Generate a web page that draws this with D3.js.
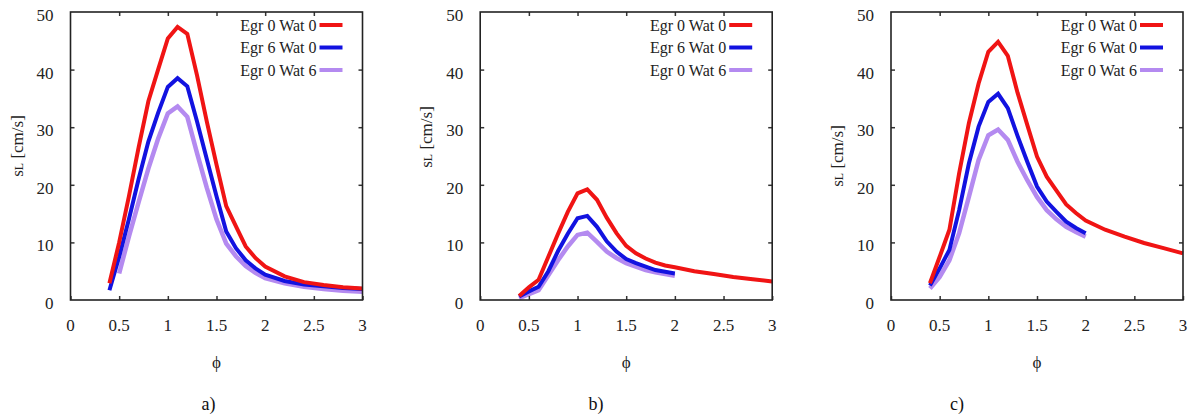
<!DOCTYPE html>
<html>
<head>
<meta charset="utf-8">
<script src="https://cdn.jsdelivr.net/npm/d3@7"></script>
<style>
  body { margin: 0; background: #fff; }
  svg { display: block; }
</style>
</head>
<body>
<div id="chart"></div>
<script>
// phi values (x axis)
var phiFull = [0.4, 0.5, 0.6, 0.7, 0.8, 0.9, 1.0, 1.1, 1.2, 1.3, 1.4, 1.5, 1.6, 1.7, 1.8, 1.9, 2.0, 2.2, 2.4, 2.6, 2.8, 3.0];
var phiShort = [0.4, 0.5, 0.6, 0.7, 0.8, 0.9, 1.0, 1.1, 1.2, 1.3, 1.4, 1.5, 1.6, 1.7, 1.8, 1.9, 2.0];
var phiFromHalf = [0.5, 0.6, 0.7, 0.8, 0.9, 1.0, 1.1, 1.2, 1.3, 1.4, 1.5, 1.6, 1.7, 1.8, 1.9, 2.0, 2.2, 2.4, 2.6, 2.8, 3.0];

// laminar flame speed sL [cm/s]
var slA_egr0wat0 = [2.9, 10, 18, 26.5, 34.5, 40, 45.4, 47.4, 46.2, 39, 31, 23.5, 16.3, 12.8, 9.3, 7.3, 5.8, 4.1, 3.1, 2.6, 2.2, 2.0];
var slA_egr6wat0 = [1.7, 7.5, 14, 21, 27.5, 32.5, 37.0, 38.5, 37.1, 31, 24.5, 18, 11.9, 9.0, 6.9, 5.5, 4.4, 3.3, 2.7, 2.4, 2.1, 1.9];
var slA_egr0wat6 = [4.6, 11, 17, 22.8, 28, 32.4, 33.6, 31.8, 25.5, 19.5, 14, 9.8, 7.6, 5.9, 4.7, 3.8, 2.9, 2.3, 1.9, 1.6, 1.45];

var slB_egr0wat0 = [0.7, 2.2, 3.5, 7.5, 11.5, 15.3, 18.5, 19.2, 17.4, 14.3, 11.6, 9.4, 8.1, 7.2, 6.5, 6.0, 5.7, 5.0, 4.5, 4.0, 3.6, 3.2];
var slB_egr6wat0 = [0.6, 1.5, 2.3, 5.0, 8.5, 11.5, 14.2, 14.6, 12.7, 10.2, 8.4, 7.1, 6.4, 5.8, 5.2, 4.9, 4.6];
var slB_egr0wat6 = [0.3, 1.0, 1.7, 4.3, 6.9, 9.3, 11.3, 11.7, 10.1, 8.4, 7.3, 6.4, 5.8, 5.2, 4.8, 4.5, 4.2];

var slC_egr0wat0 = [2.9, 7.5, 12.2, 22, 30.7, 37.6, 43.1, 44.8, 42.4, 36.0, 30.4, 24.9, 21.4, 19.0, 16.6, 15.1, 13.8, 12.2, 11.0, 9.9, 9.0, 8.1];
var slC_egr6wat0 = [2.5, 5.5, 8.7, 15.6, 23.7, 30.1, 34.4, 35.8, 33.3, 28.5, 24, 19.7, 17.1, 15.3, 13.6, 12.5, 11.6];
var slC_egr0wat6 = [2.0, 4.0, 6.9, 11.6, 17.9, 24.3, 28.6, 29.6, 27.8, 24, 20.8, 17.9, 15.6, 14.0, 12.7, 11.8, 11.0];

var seriesNames = ["Egr 0 Wat 0", "Egr 6 Wat 0", "Egr 0 Wat 6"];
var seriesColors = ["#f01414", "#1212e0", "#b48af0"];
var xTicks = [0, 0.5, 1, 1.5, 2, 2.5, 3];
var yTicks = [0, 10, 20, 30, 40, 50];
var captions = ["a)", "b)", "c)"];

var panels = [
  {left: 70.5, caption: 0, captionX: 208.5, labelY: 146,
   series: [{x: phiFull, y: slA_egr0wat0}, {x: phiFull, y: slA_egr6wat0}, {x: phiFromHalf, y: slA_egr0wat6}]},
  {left: 480.2, caption: 1, captionX: 596, labelY: 137,
   series: [{x: phiFull, y: slB_egr0wat0}, {x: phiShort, y: slB_egr6wat0}, {x: phiShort, y: slB_egr0wat6}]},
  {left: 891, caption: 2, captionX: 957, labelY: 156,
   series: [{x: phiFull, y: slC_egr0wat0}, {x: phiShort, y: slC_egr6wat0}, {x: phiShort, y: slC_egr0wat6}]}
];

var W = 1189, H = 415;
var top0 = 12, bottom0 = 300, plotW = 292;
var SERIF = "'Liberation Serif', 'Times New Roman', serif";

var svg = d3.select("#chart")
            .append("svg")
              .attr("width", W)
              .attr("height", H);

function drawPanel(p) {
  var x = d3.scaleLinear().domain([0, 3]).range([p.left, p.left + plotW]);
  var y = d3.scaleLinear().domain([0, 50]).range([bottom0, top0]);
  var g = svg.append("g");

  // curves
  var line = d3.line()
               .x(function(d) { return x(d[0]); })
               .y(function(d) { return y(d[1]); });
  // purple first, then blue, red on top
  [2, 1, 0].forEach(function(i) {
    var s = p.series[i];
    var pts = s.x.map(function(v, k) { return [v, s.y[k]]; });
    g.append("path")
      .datum(pts)
      .attr("d", line)
      .attr("fill", "none")
      .attr("stroke", seriesColors[i])
      .attr("stroke-width", i == 2 ? 4.5 : 4)
      .attr("stroke-linejoin", "miter");
  });

  // inward ticks on all sides (mirror)
  var tl = 4;
  var axB = d3.axisBottom(x).tickValues(xTicks).tickSize(-tl).tickFormat("");
  var axT = d3.axisTop(x).tickValues(xTicks.slice(1, -1)).tickSize(-tl).tickFormat("");
  var axL = d3.axisLeft(y).tickValues(yTicks.slice(1, -1)).tickSize(-tl).tickFormat("");
  var axR = d3.axisRight(y).tickValues(yTicks.slice(1, -1)).tickSize(-tl).tickFormat("");
  g.append("g").attr("transform", "translate(0," + bottom0 + ")").call(axB);
  g.append("g").attr("transform", "translate(0," + top0 + ")").call(axT);
  g.append("g").attr("transform", "translate(" + p.left + ",0)").call(axL);
  g.append("g").attr("transform", "translate(" + (p.left + plotW) + ",0)").call(axR);
  g.selectAll(".domain").remove();
  g.selectAll(".tick line").attr("stroke", "#333").attr("stroke-width", 1.5);

  // frame
  g.append("rect")
    .attr("x", p.left)
    .attr("y", top0)
    .attr("width", plotW)
    .attr("height", bottom0 - top0)
    .attr("fill", "none")
    .attr("stroke", "#222")
    .attr("stroke-width", 1.6);

  // tick labels
  g.selectAll(null)
    .data(xTicks)
    .enter()
    .append("text")
      .attr("x", function(d) { return x(d); })
      .attr("y", 331)
      .attr("text-anchor", "middle")
      .style("font-family", SERIF)
      .style("font-size", "17px")
      .attr("fill", "#222")
      .text(function(d) { return d; });
  g.selectAll(null)
    .data(yTicks)
    .enter()
    .append("text")
      .attr("x", p.left - 17)
      .attr("y", function(d) { return y(d) + 9; })
      .attr("text-anchor", "end")
      .style("font-family", SERIF)
      .style("font-size", "17px")
      .attr("fill", "#222")
      .text(function(d) { return d; });

  // y label
  var yl = g.append("text")
            .attr("transform", "translate(" + (p.left - 48) + "," + p.labelY + ") rotate(-90)")
            .attr("text-anchor", "middle")
            .style("font-family", SERIF)
            .style("font-size", "17px")
            .attr("fill", "#222");
  yl.append("tspan").text("s");
  yl.append("tspan").style("font-size", "12px").text("L");
  yl.append("tspan").text(" [cm/s]");

  // x label
  g.append("text")
    .attr("x", p.left + plotW / 2)
    .attr("y", 368)
    .attr("text-anchor", "middle")
    .style("font-family", SERIF)
    .style("font-size", "17px")
    .attr("fill", "#222")
    .text("\u03d5");

  // caption
  g.append("text")
    .attr("x", p.captionX)
    .attr("y", 410)
    .attr("text-anchor", "middle")
    .style("font-family", SERIF)
    .style("font-size", "18px")
    .attr("fill", "#111")
    .text(captions[p.caption]);

  // legend
  var lineEnd = p.left + plotW - 20;
  var lineStart = lineEnd - 23;
  seriesNames.forEach(function(name, i) {
    var ly = 25 + i * 22.5;
    g.append("text")
      .attr("x", lineStart - 3)
      .attr("y", ly + 5.5)
      .attr("text-anchor", "end")
      .style("font-family", SERIF)
      .style("font-size", "16px")
      .attr("fill", "#222")
      .text(name);
    g.append("line")
      .attr("x1", lineStart)
      .attr("x2", lineEnd)
      .attr("y1", ly)
      .attr("y2", ly)
      .attr("stroke", seriesColors[i])
      .attr("stroke-width", 4);
  });
}

panels.forEach(drawPanel);
</script>
</body>
</html>
